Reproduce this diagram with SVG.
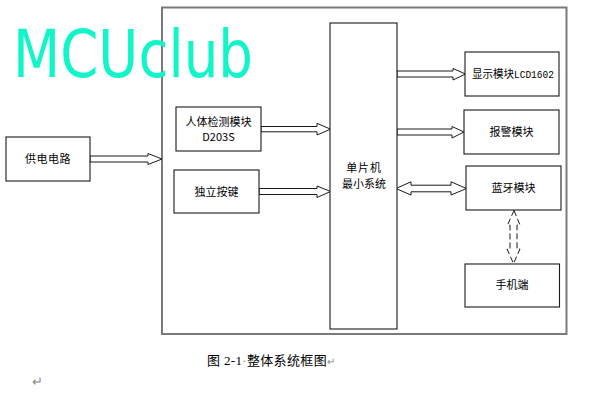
<svg xmlns="http://www.w3.org/2000/svg" width="605" height="413" viewBox="0 0 605 413">
<style>
.box{fill:#fff;stroke:#1a1a1a;stroke-width:1.1}
.lbl{font-family:"Noto Sans CJK SC","Liberation Sans",sans-serif;font-size:11px;fill:#000;text-anchor:middle}
.arr{fill:#fff;stroke:#1a1a1a;stroke-width:1;stroke-linejoin:miter}
.dash{fill:#fff;stroke:#1a1a1a;stroke-width:1;stroke-dasharray:6,3}
.cap{font-family:"Liberation Serif","Noto Sans CJK SC",serif;font-size:13px;fill:#000}
.mark{fill:#888}
</style>
<rect width="605" height="413" fill="#fff"/>
<g id="outer">
<rect x="162" y="7.5" width="404.5" height="326.5" fill="none" stroke="#7a7a7a" stroke-width="2"/>
</g>
<g id="logo">
<text x="13" y="77" font-family="DejaVu Sans,sans-serif" font-size="66" fill="#12f5c8" textLength="240" lengthAdjust="spacingAndGlyphs">MCUclub</text>
</g>
<g id="connectors">
<polygon class="arr" points="90,156 148,156 148,153.5 162,159 148,164.5 148,162 90,162"/>
<polygon class="arr" points="261,126.5 317,126.5 317,123.3 330.5,129.2 317,135 317,131.8 261,131.8"/>
<polygon class="arr" points="259,188.5 317,188.5 317,186 330.5,191.5 317,197.5 317,194.5 259,194.5"/>
<polygon class="arr" points="397,71 453,71 453,68.5 465.5,74 453,80 453,77 397,77"/>
<polygon class="arr" points="397,129 452,129 452,126.5 464,132 452,138 452,135 397,135"/>
<polygon class="arr" points="396,188.5 411,181.8 411,185.2 451,185.2 451,181.8 466.5,188.5 451,195 451,191.8 411,191.8 411,195"/>
<polygon class="dash" points="514,210.5 520,225 517,225 517,249 520,249 513.5,263.5 507,249 510,249 510,225 507.5,225"/>
</g>
<g id="power">
<rect class="box" x="6" y="137" width="84" height="44"/>
<text class="lbl" x="48" y="163" letter-spacing="0.5">供电电路</text>
</g>
<g id="sensor">
<rect class="box" x="176" y="107" width="85" height="44"/>
<text class="lbl" x="218.5" y="126">人体检测模块</text>
<text class="lbl" x="218.5" y="141" font-family="Liberation Mono,monospace" font-size="9.5">D203S</text>
</g>
<g id="keys">
<rect class="box" x="174" y="170" width="85" height="43"/>
<text class="lbl" x="216.5" y="196">独立按键</text>
</g>
<g id="mcu">
<rect class="box" x="330" y="23" width="67" height="306"/>
<text class="lbl" x="364" y="172" font-size="10.5" letter-spacing="0.8">单片机</text>
<text class="lbl" x="364" y="188" font-size="10.5">最小系统</text>
</g>
<g id="display">
<rect class="box" x="465" y="52" width="94" height="44"/>
<text x="513" y="78" class="lbl" textLength="82" lengthAdjust="spacingAndGlyphs">显示模块<tspan font-family="Liberation Mono,monospace" font-size="10">LCD1602</tspan></text>
</g>
<g id="alarm">
<rect class="box" x="464" y="110" width="95" height="44"/>
<text class="lbl" x="511.5" y="136">报警模块</text>
</g>
<g id="bluetooth">
<rect class="box" x="466" y="166" width="95" height="44"/>
<text class="lbl" x="513.5" y="192">蓝牙模块</text>
</g>
<g id="phone">
<rect class="box" x="465" y="264" width="94.5" height="43"/>
<text class="lbl" x="512" y="289">手机端</text>
</g>
<g id="caption">
<text class="cap" x="207" y="365" textLength="128" lengthAdjust="spacing">图 2-1<tspan class="mark">·</tspan>整体系统框图<tspan class="mark" font-size="10">↵</tspan></text>
<text class="cap mark" x="32" y="386" font-size="10">↵</text>
</g>
</svg>
